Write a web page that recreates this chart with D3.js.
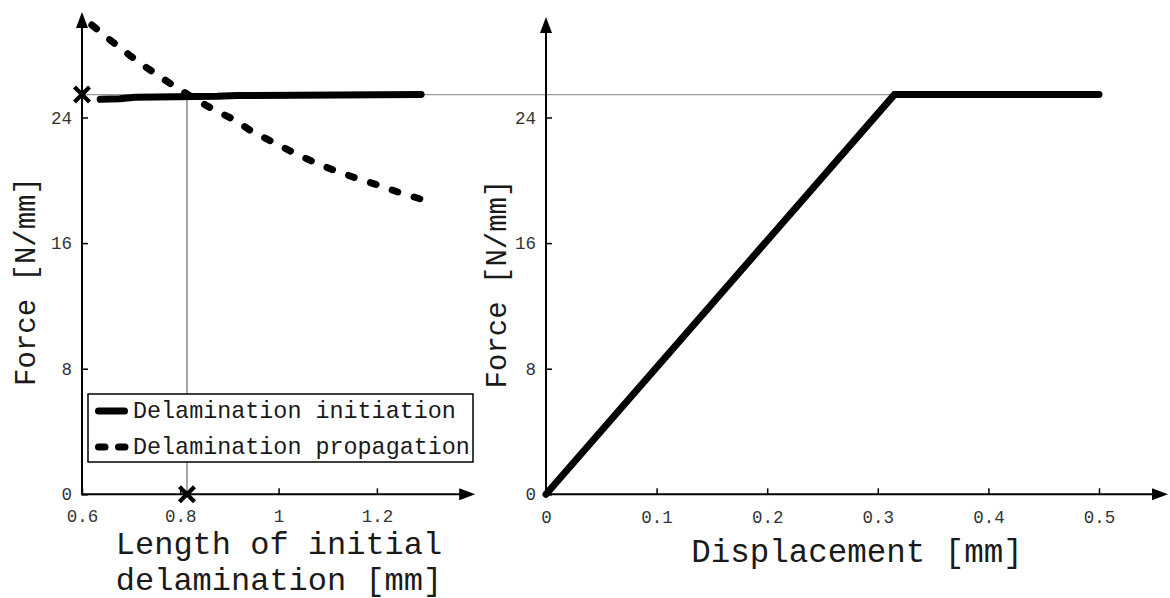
<!DOCTYPE html>
<html>
<head>
<meta charset="utf-8">
<script src="https://cdn.jsdelivr.net/npm/d3@7"></script>
<style>
  html, body { margin: 0; padding: 0; background: #fff; }
  svg { display: block; }
  text { font-family: "Courier New", "Liberation Mono", monospace; }
</style>
</head>
<body>
<svg id="chart" width="1170" height="598"></svg>
<script>
// Force vs. length of initial delamination
const initLength = [0.637, 0.677, 0.708, 0.875, 0.915, 1.29];
const initForce  = [25.16, 25.20, 25.29, 25.35, 25.40, 25.46];

const propLength = [0.620, 0.661, 0.700, 0.734, 0.781, 0.830, 0.869, 0.911, 0.946,
                    0.987, 1.027, 1.070, 1.111, 1.153, 1.196, 1.241, 1.290];
const propForce  = [29.89, 28.84, 27.89, 27.12, 26.13, 25.18, 24.48, 23.84, 23.10,
                    22.46, 21.82, 21.18, 20.66, 20.19, 19.76, 19.27, 18.80];

// Length where initiation and propagation curves cross
const critLength = 0.8136;
const maxForce = initForce[initForce.length - 1];

// Force vs. displacement (bilinear response)
const displacement = [0, 0.315, 0.5];
const dispForce    = [0, maxForce, maxForce];

const lengthTicks = [0.6, 0.8, 1, 1.2];
const dispTicks   = [0, 0.1, 0.2, 0.3, 0.4, 0.5];
const forceTicks  = [0, 8, 16, 24];

const legendLabels = ["Delamination initiation", "Delamination propagation"];

const svg = d3.select("#chart");

// Scales
const y  = d3.scaleLinear().domain([0, 24]).range([494.3, 117.5]);
const xL = d3.scaleLinear().domain([0.6, 1.2]).range([82, 376.9]);
const xR = d3.scaleLinear().domain([0, 0.5]).range([546, 1099]);

const tickFont = "17.5px";
const tickColor = "#333";
const titleColor = "#1a1a1a";

function styleAxis(g) {
  g.select(".domain").remove();
  g.selectAll(".tick line").attr("stroke", "#000").attr("stroke-width", 1.5);
  g.selectAll(".tick text").attr("fill", tickColor).style("font-size", tickFont);
}

function arrowAxes(x0, y0, xTip, yTip) {
  const g = svg.append("g");
  g.append("line").attr("x1", x0).attr("y1", y0).attr("x2", xTip - 8).attr("y2", y0)
    .attr("stroke", "#000").attr("stroke-width", 2);
  g.append("line").attr("x1", x0).attr("y1", y0 + 1).attr("x2", x0).attr("y2", yTip + 8)
    .attr("stroke", "#000").attr("stroke-width", 2);
  g.append("path")
    .attr("d", `M${xTip},${y0} L${xTip - 16},${y0 - 6} L${xTip - 16},${y0 + 6} Z`)
    .attr("fill", "#000");
  g.append("path")
    .attr("d", `M${x0},${yTip} L${x0 - 6},${yTip + 16} L${x0 + 6},${yTip + 16} Z`)
    .attr("fill", "#000");
}

function crossMark(cx, cy) {
  const s = 7.5;
  svg.append("path")
    .attr("d", `M${cx - s},${cy - s} L${cx + s},${cy + s} M${cx - s},${cy + s} L${cx + s},${cy - s}`)
    .attr("stroke", "#000").attr("stroke-width", 4.2).attr("fill", "none");
}

// ---------- Reference guides ----------
svg.append("line")
  .attr("x1", xL(0.6)).attr("x2", xR(displacement[1]))
  .attr("y1", y(maxForce)).attr("y2", y(maxForce))
  .attr("stroke", "#9a9a9a").attr("stroke-width", 1.4);
svg.append("line")
  .attr("x1", xL(critLength)).attr("x2", xL(critLength))
  .attr("y1", y(maxForce)).attr("y2", y(0))
  .attr("stroke", "#808080").attr("stroke-width", 1.4);

// ---------- Left panel ----------
const gxL = svg.append("g").attr("transform", `translate(0,${y(0)})`)
  .call(d3.axisBottom(xL).tickValues(lengthTicks).tickSizeInner(-6).tickSizeOuter(0)
    .tickPadding(15).tickFormat(d3.format("")));
styleAxis(gxL);
const gyL = svg.append("g").attr("transform", `translate(${xL(0.6)},0)`)
  .call(d3.axisLeft(y).tickValues(forceTicks).tickSizeInner(-6).tickSizeOuter(0).tickPadding(10));
styleAxis(gyL);
arrowAxes(xL(0.6), y(0), xL(1.4), 12);

// Legend box (drawn over the vertical guide)
const legend = svg.append("g");
legend.append("rect").attr("x", 88).attr("y", 394).attr("width", 385).attr("height", 68)
  .attr("fill", "#fff").attr("stroke", "#000").attr("stroke-width", 1.5);
legend.append("line").attr("x1", 98.5).attr("x2", 124.5).attr("y1", 411).attr("y2", 411)
  .attr("stroke", "#000").attr("stroke-width", 7).attr("stroke-linecap", "round");
legend.append("line").attr("x1", 98.5).attr("x2", 125).attr("y1", 447).attr("y2", 447)
  .attr("stroke", "#000").attr("stroke-width", 7).attr("stroke-linecap", "round")
  .attr("stroke-dasharray", "6.5 13.5");
legend.selectAll("text.leg").data(legendLabels).join("text")
  .attr("class", "leg")
  .attr("x", 133).attr("y", (d, i) => 417.5 + i * 36)
  .attr("fill", titleColor).style("font-size", "23.4px")
  .text(d => d);

const lineL = d3.line().x(d => xL(d[0])).y(d => y(d[1]));

svg.append("path")
  .datum(propLength.map((v, i) => [v, propForce[i]]))
  .attr("d", lineL)
  .attr("fill", "none").attr("stroke", "#000").attr("stroke-width", 7)
  .attr("stroke-linecap", "round").attr("stroke-linejoin", "round")
  .attr("stroke-dasharray", "6 17");

svg.append("path")
  .datum(initLength.map((v, i) => [v, initForce[i]]))
  .attr("d", lineL)
  .attr("fill", "none").attr("stroke", "#000").attr("stroke-width", 7)
  .attr("stroke-linecap", "round").attr("stroke-linejoin", "round");

crossMark(xL(0.6), y(maxForce));
crossMark(xL(critLength), y(0));

// Axis titles, left panel (two lines)
svg.append("text").attr("x", 279).attr("y", 553.5).attr("text-anchor", "middle")
  .attr("fill", titleColor).style("font-size", "32px").text("Length of initial");
svg.append("text").attr("x", 279).attr("y", 589.5).attr("text-anchor", "middle")
  .attr("fill", titleColor).style("font-size", "32px").text("delamination [mm]");
svg.append("text").attr("transform", "translate(35,281.5) rotate(-90)")
  .attr("text-anchor", "middle").attr("fill", titleColor).style("font-size", "29px")
  .text("Force [N/mm]");

// ---------- Right panel ----------
const gxR = svg.append("g").attr("transform", `translate(0,${y(0)})`)
  .call(d3.axisBottom(xR).tickValues(dispTicks).tickSizeInner(-6).tickSizeOuter(0)
    .tickPadding(16.5).tickFormat(d3.format("")));
styleAxis(gxR);
const gyR = svg.append("g").attr("transform", `translate(${xR(0)},0)`)
  .call(d3.axisLeft(y).tickValues(forceTicks).tickSizeInner(-6).tickSizeOuter(0).tickPadding(10));
styleAxis(gyR);
arrowAxes(xR(0), y(0), 1168, 17);

const lineR = d3.line().x(d => xR(d[0])).y(d => y(d[1]));
svg.append("path")
  .datum(displacement.map((v, i) => [v, dispForce[i]]))
  .attr("d", lineR)
  .attr("fill", "none").attr("stroke", "#000").attr("stroke-width", 7)
  .attr("stroke-linecap", "round").attr("stroke-linejoin", "miter");

svg.append("text").attr("x", 857).attr("y", 562).attr("text-anchor", "middle")
  .attr("fill", titleColor).style("font-size", "32.5px").text("Displacement [mm]");
svg.append("text").attr("transform", "translate(506,284) rotate(-90)")
  .attr("text-anchor", "middle").attr("fill", titleColor).style("font-size", "29px")
  .text("Force [N/mm]");
</script>
</body>
</html>
